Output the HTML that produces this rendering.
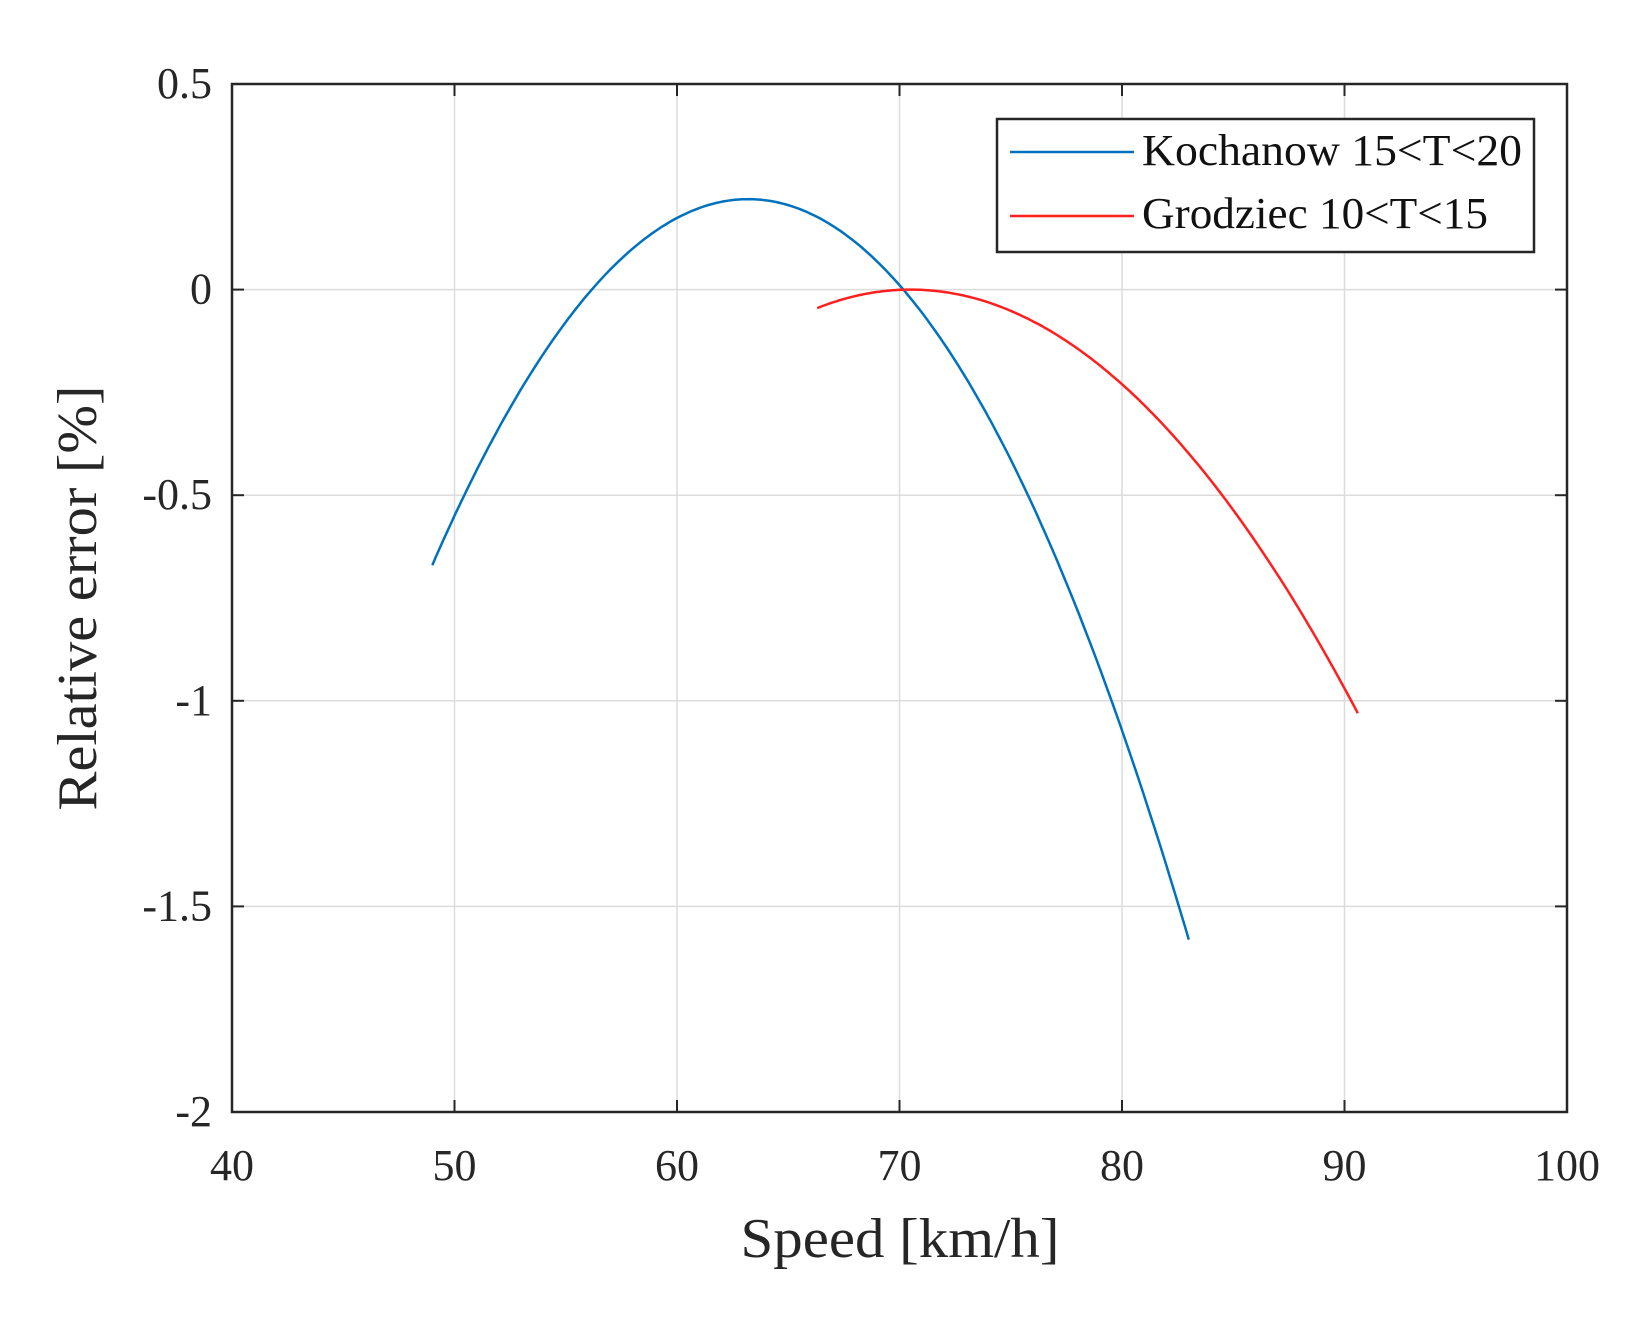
<!DOCTYPE html>
<html><head><meta charset="utf-8"><style>html,body{margin:0;padding:0;background:#fff}</style></head>
<body>
<svg id="s" width="1644" height="1332" xmlns="http://www.w3.org/2000/svg" font-family="Liberation Serif, serif">
<rect width="1644" height="1332" fill="#fff"/>
<g id="grid" stroke="#dcdcdc" stroke-width="1.5"></g>
<g id="ticks" stroke="#262626" stroke-width="2"></g>
<rect x="232" y="84" width="1335" height="1028" fill="none" stroke="#262626" stroke-width="2.5"/>
<path id="blue" fill="none" stroke="#0072BD" stroke-width="2.5"/>
<path id="red" fill="none" stroke="#FF1F1F" stroke-width="2.5"/>
<g id="labels" fill="#262626" font-size="44"></g>
<text x="900" y="1257" font-size="56" text-anchor="middle" fill="#262626" textLength="319" lengthAdjust="spacingAndGlyphs">Speed [km/h]</text>
<text transform="translate(96,598) rotate(-90)" font-size="56" text-anchor="middle" fill="#262626" textLength="425" lengthAdjust="spacingAndGlyphs">Relative error [%]</text>
<rect x="997" y="119" width="537" height="133" fill="#fff" stroke="#262626" stroke-width="2.5"/>
<line x1="1010" y1="152" x2="1134" y2="152" stroke="#0072BD" stroke-width="2.5"/>
<line x1="1010" y1="216" x2="1134" y2="216" stroke="#FF1F1F" stroke-width="2.5"/>
<text x="1142" y="165" font-size="44" fill="#111" textLength="380" lengthAdjust="spacingAndGlyphs">Kochanow 15&lt;T&lt;20</text>
<text x="1142" y="228" font-size="44" fill="#111" textLength="346" lengthAdjust="spacingAndGlyphs">Grodziec 10&lt;T&lt;15</text>
</svg>
<script>
var X0=232,X1=1567,Y0=84,Y1=1112;
function px(x){return X0+(x-40)/60*(X1-X0);}
function py(y){return Y0+(0.5-y)/2.5*(Y1-Y0);}
var ns="http://www.w3.org/2000/svg";
function el(p,t,a,txt){var e=document.createElementNS(ns,t);for(var k in a)e.setAttribute(k,a[k]);if(txt)e.textContent=txt;document.getElementById(p).appendChild(e);}
for(var x=50;x<100;x+=10){el('grid','line',{x1:px(x),x2:px(x),y1:Y0,y2:Y1});}
for(var i=1;i<5;i++){var y=0.5-i*0.5;el('grid','line',{x1:X0,x2:X1,y1:py(y),y2:py(y)});}
for(var x=40;x<=100;x+=10){var X=px(x);el('ticks','line',{x1:X,x2:X,y1:Y1,y2:Y1-12});el('ticks','line',{x1:X,x2:X,y1:Y0,y2:Y0+12});
 el('labels','text',{x:X,y:1180,'text-anchor':'middle'},String(x));}
var yl=['0.5','0','-0.5','-1','-1.5','-2'];
for(var i=0;i<6;i++){var y=0.5-i*0.5,Y=py(y);el('ticks','line',{x1:X0,x2:X0+12,y1:Y,y2:Y});el('ticks','line',{x1:X1,x2:X1-12,y1:Y,y2:Y});
 el('labels','text',{x:212,y:Y+14,'text-anchor':'end'},yl[i]);}
function path(f,a,b){var d='';for(var i=0;i<=200;i++){var x=a+(b-a)*i/200;d+=(i?'L':'M')+px(x).toFixed(1)+','+py(f(x)).toFixed(1);}return d;}
document.getElementById('blue').setAttribute('d',path(function(x){var d=x-63.2;return 0.22-0.004489*d*d-5.25e-6*d*d*d;},49,83));
document.getElementById('red').setAttribute('d',path(function(x){var d=x-70.5;return -0.00255*d*d;},66.3,90.6));
</script>
</body></html>
